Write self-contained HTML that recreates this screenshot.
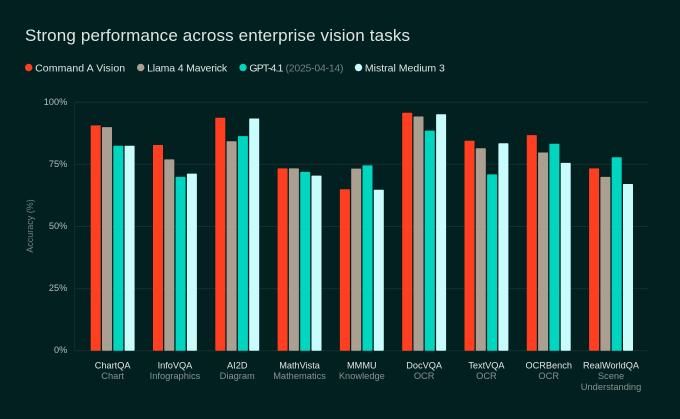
<!DOCTYPE html>
<html>
<head>
<meta charset="utf-8">
<style>
html,body{margin:0;padding:0;background:#022020;width:680px;height:419px;overflow:hidden}
svg{display:block;font-family:"Liberation Sans",sans-serif}
</style>
</head>
<body>
<svg id="chart" width="680" height="419" viewBox="0 0 680 419" xmlns="http://www.w3.org/2000/svg">
<rect width="680" height="419" fill="#022020"/>
<text x="25" y="41" font-size="17" fill="#dfe5e2" textLength="385" lengthAdjust="spacing">Strong performance across enterprise vision tasks</text>
<g id="legend"></g>
<g id="grid"></g>
<g id="bars"></g>
<g id="xlabels"></g>
<text transform="translate(33 226) rotate(-90)" text-anchor="middle" font-size="9" fill="#71827f">Accuracy (%)</text>
</svg>
<script>
const categories = ["ChartQA","InfoVQA","AI2D","MathVista","MMMU","DocVQA","TextVQA","OCRBench","RealWorldQA"];
const subLabels = [["Chart"],["Infographics"],["Diagram"],["Mathematics"],["Knowledge"],["OCR"],["OCR"],["OCR"],["Scene","Understanding"]];
const commandA = [90.7,82.8,93.8,73.4,65,95.8,84.5,86.8,73.4];
const llama = [90,77,84.3,73.4,73.3,94.3,81.5,79.8,70];
const gpt = [82.5,70,86.4,72,74.6,88.6,71,83.3,77.9];
const mistral = [82.5,71.3,93.5,70.5,64.8,95.2,83.5,75.6,67.1];
const seriesValues = [commandA,llama,gpt,mistral];
const seriesNames = ["command-a-vision","llama-4-maverick","gpt-4-1","mistral-medium-3"];
const seriesColors = ["#ff3f20","#aa9f90","#00d5bf","#c8fcfd"];
const yTicks = [0,25,50,75,100];

const NS = "http://www.w3.org/2000/svg";
const yBase = 350.7, yTop = 102.3, xLeft = 74.7, xRight = 648;
const firstGroup = 90.7, groupStep = 62.3, barW = 10, barStep = 11.3;
const y = v => yBase - (v / 100) * (yBase - yTop);
const x = (g, s) => firstGroup + g * groupStep + s * barStep;

function mk(tag, attrs, parent, text) {
  const el = document.createElementNS(NS, tag);
  for (const k in attrs) el.setAttribute(k, attrs[k]);
  if (text !== undefined) el.textContent = text;
  parent.appendChild(el);
  return el;
}

/* legend */
const legendG = document.getElementById("legend");
const legendDots = [28.7, 140.7, 243, 358.5];
const legendLabels = ["Command A Vision","Llama 4 Maverick","GPT-4.1","Mistral Medium 3"];
const legendWidths = [90, 80, 34, 80];
legendLabels.forEach((t, i) => {
  const c = mk("circle", {cx: legendDots[i], cy: 67.5, r: 3.7, fill: seriesColors[i]}, legendG);
  
  
  const l = mk("text", {x: legendDots[i] + 6.4, y: 71.5, "font-size": 10.5, fill: "#dfe5e3", textLength: legendWidths[i], lengthAdjust: "spacing"}, legendG, t);
  
  
});
const dateNote = mk("text", {x: 285.5, y: 71.5, "font-size": 10.5, fill: "#6f807d", textLength: 58, lengthAdjust: "spacing"}, legendG, "(2025-04-14)");



/* grid + y ticks */
const gridG = document.getElementById("grid");
yTicks.forEach(t => {
  const ln = mk("line", {x1: xLeft, x2: xRight, y1: y(t), y2: y(t), stroke: "#12302e", "stroke-width": 1}, gridG);
  
  
  const lb = mk("text", {x: 67.3, y: y(t) + 2.5, "text-anchor": "end", "font-size": 9.2, fill: "#b4bfbc"}, gridG, t + "%");
  
  
});
const yAxis = mk("line", {x1: xLeft, x2: xLeft, y1: yTop, y2: yBase, stroke: "#12302e", "stroke-width": 1}, gridG);



/* bars */
const barsG = document.getElementById("bars");
seriesValues.forEach((vals, s) => {
  vals.forEach((v, g) => {
    const b = mk("rect", {x: x(g, s), y: y(v), width: barW, height: yBase - y(v), fill: seriesColors[s], rx: 0.7}, barsG);
    
    
    b.setAttribute('data-series', seriesNames[s]);
  });
});

/* x labels */
const xG = document.getElementById("xlabels");
categories.forEach((c, g) => {
  const cx = x(g, 0) + (3 * barStep + barW) / 2;
  const a = mk("text", {x: cx, y: 368.3, "text-anchor": "middle", "font-size": 9.2, fill: "#dfe5e3"}, xG, c);
  
  
  subLabels[g].forEach((t, i) => {
    const sub = mk("text", {x: cx, y: 379 + i * 11, "text-anchor": "middle", "font-size": 9.3, fill: "#84938f"}, xG, t);
    
    
  });
});
</script>
</body>
</html>
